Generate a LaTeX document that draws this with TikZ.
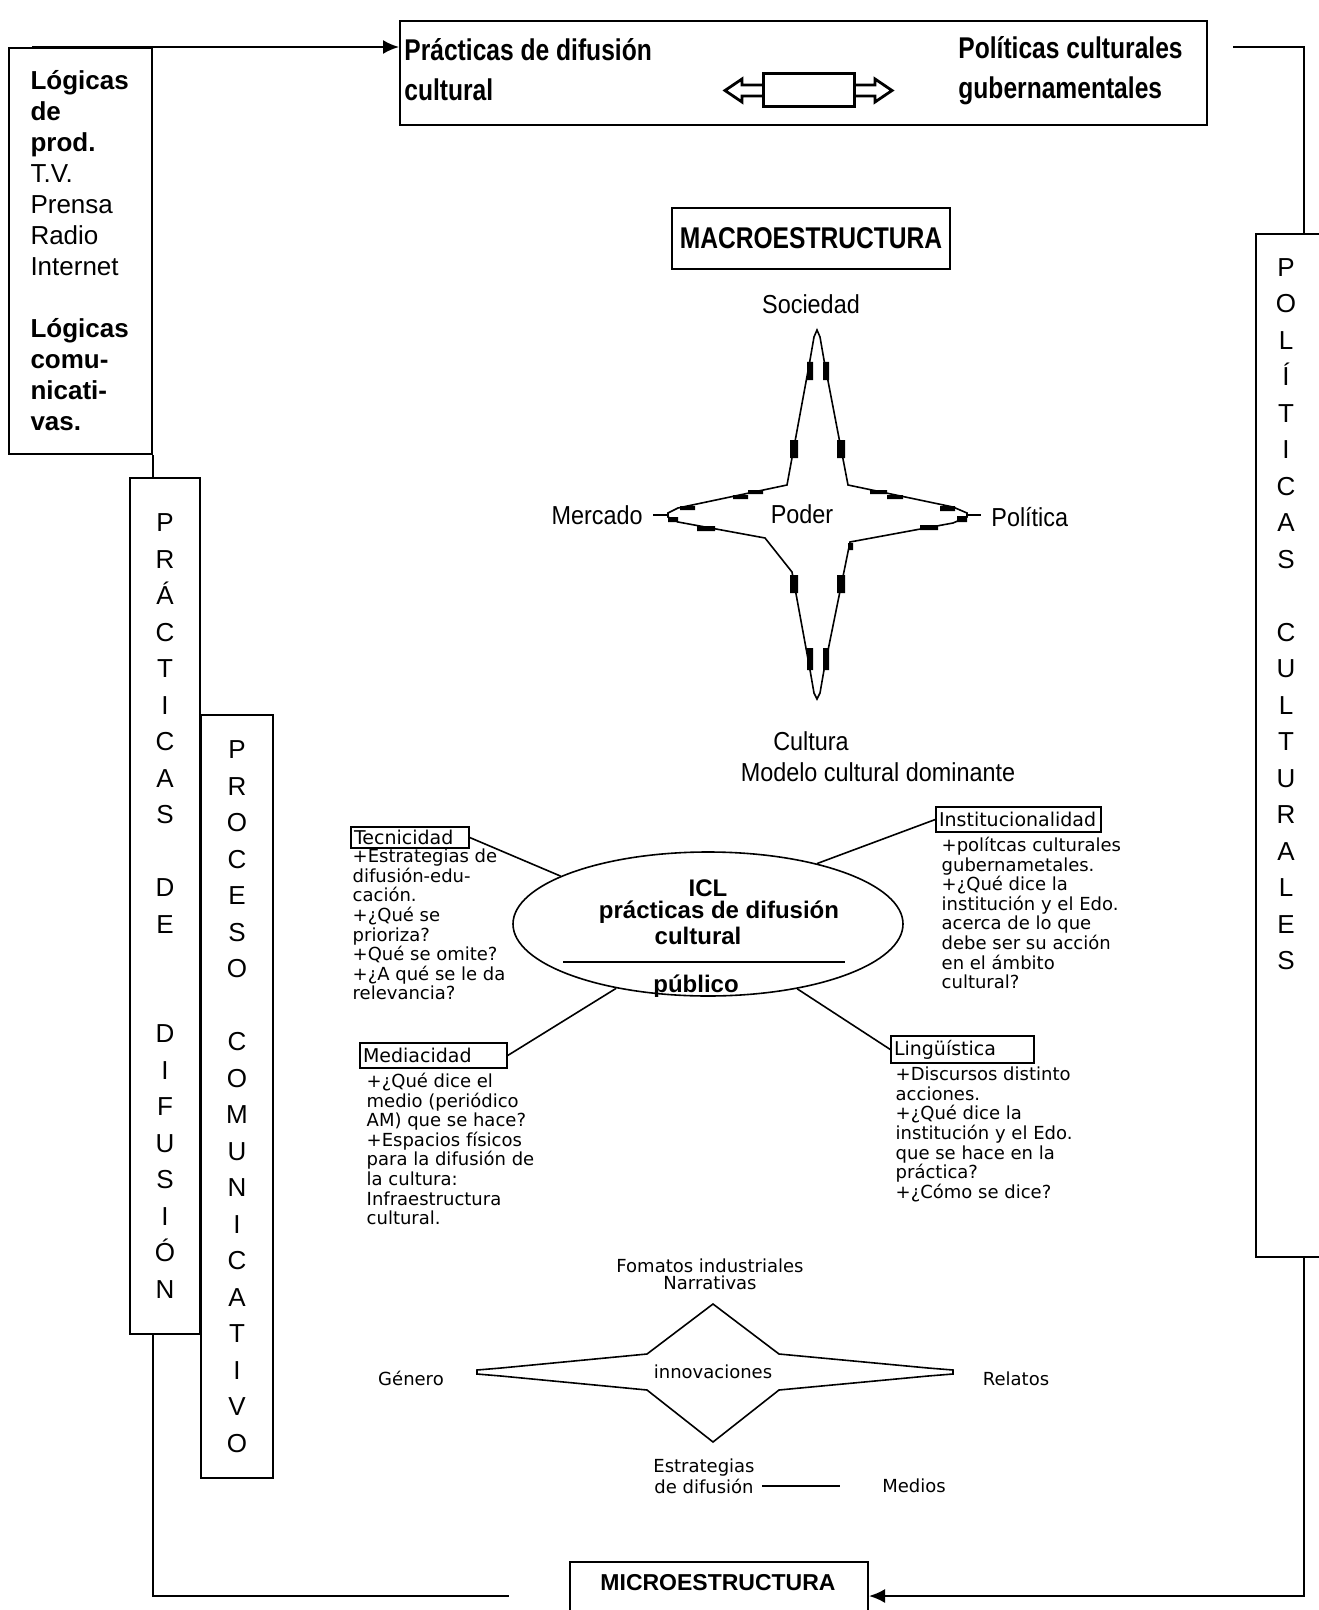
\documentclass[tikz,border=0pt]{standalone}
\usepackage{fontspec}
\setmainfont{Liberation Sans}
\newfontfamily\pixfont{DejaVu Sans}
\newfontfamily\narrowfont[FakeStretch=0.9]{Liberation Sans}
\newfontfamily\headfont[FakeStretch=0.82]{Liberation Sans}
\usetikzlibrary{positioning,shapes.geometric,calc,arrows.meta}

\begin{document}
\begin{tikzpicture}[x=0.5pt,y=-0.5pt,
  box/.style={draw,line width=1pt,inner sep=0pt},
  conn/.style={line width=1pt},
  tip/.style={-{Latex[length=8pt,width=7pt]}},
  fineline/.style={line width=0.8pt},
  vert/.style={font=\fontsize{13}{18.25}\selectfont,align=center,inner sep=0pt},
  head/.style={font=\headfont\bfseries\fontsize{15}{20}\selectfont,align=left,inner sep=0pt},
  lbl/.style={font=\narrowfont\fontsize{13}{15}\selectfont,inner sep=1pt},
  tag/.style={draw,line width=0.7pt,font=\pixfont\fontsize{9.5}{10}\selectfont,inner sep=1.5pt,align=left},
  blk/.style={font=\pixfont\fontsize{9}{9.8}\selectfont,align=left,inner sep=0pt},
  small/.style={font=\pixfont\fontsize{9}{8.75}\selectfont,align=center,inner sep=0pt},
  icltext/.style={font=\bfseries\fontsize{12}{14}\selectfont,inner sep=0pt}]
 	\useasboundingbox (0,0) rectangle (1318,1610);
 	\node[box,minimum width=71.5pt,minimum height=203pt,text width=50pt,align=left,font=\fontsize{13}{15.5}\selectfont] (logicas) at (80.5,251) {\textbf{Lógicas}\\\textbf{de}\\\textbf{prod.}\\T.V.\\Prensa\\Radio\\Internet\\[15.5pt]\textbf{Lógicas}\\\textbf{comu-}\\\textbf{nicati-}\\\textbf{vas.}};
 	\node[box,minimum width=403.5pt,minimum height=52pt] (topbox) at (803.5,73) {};
 	\node[head,anchor=west] (practxt) at (404,70) {Prácticas de difusión\\cultural};
 	\node[head,anchor=west] (poltxt) at (958,71) {Políticas culturales\\gubernamentales};
 	\draw[line width=1.5pt] (763,74) rectangle (854,107);
 	\draw[line width=1.4pt] (763,85) -- (742,85) -- (742,79) -- (725,90.5) -- (742,102) -- (742,96) -- (763,96);
 	\draw[line width=1.4pt] (854,85) -- (875,85) -- (875,79) -- (892,90.5) -- (875,102) -- (875,96) -- (854,96);
 	\node[box,minimum width=48pt,minimum height=511.5pt] (polbox) at (1304,745.5) {};
 	\node[vert,anchor=north] (poltitle) at (1286,258) {P\\O\\L\\Í\\T\\I\\C\\A\\S\\[18.25pt]C\\U\\L\\T\\U\\R\\A\\L\\E\\S};
 	\node[box,vert,minimum width=35pt,minimum height=428pt] (practbox) at (165,906) {P\\R\\Á\\C\\T\\I\\C\\A\\S\\[18.25pt]D\\E\\[36.5pt]D\\I\\F\\U\\S\\I\\Ó\\N};
 	\node[box,vert,minimum width=36pt,minimum height=381.5pt] (procbox) at (237,1096.5) {P\\R\\O\\C\\E\\S\\O\\[18.25pt]C\\O\\M\\U\\N\\I\\C\\A\\T\\I\\V\\O};
 	\node[box,minimum width=149pt,minimum height=34pt] (micro) at (719,1596) {};
 	\node[font=\bfseries\fontsize{11.5}{13}\selectfont,inner sep=0pt] (microtxt) at (718,1583) {MICROESTRUCTURA};
 	\draw[conn,tip] ([xshift=12pt]logicas.north west) -- (topbox.west |- logicas.north);
 	\draw[conn] ([xshift=12.5pt]topbox.east |- logicas.north) -| (polbox.north);
 	\draw[conn] (logicas.south east) -- (logicas.east |- practbox.north);
 	\draw[conn] (logicas.east |- practbox.south) |- ([xshift=-30pt]micro.west);
 	\draw[conn,tip] (polbox.south) |- (micro.east);
 	\node[box,minimum width=139pt,minimum height=30.5pt,font=\headfont\bfseries\fontsize{15}{18}\selectfont] (macro) at (811,238.5) {MACROESTRUCTURA};
 	\begin{scope}[shift={(817,515)}]
 		\draw[fineline] (0,-185) -- (3,-178) -- (7,-155) -- (31,-30) -- (136,-8) -- (150,-2) -- (150,2) -- (136,8) -- (33,27) -- (7,155) -- (3,178) -- (0,184) -- (-3,178) -- (-7,155) -- (-25,57) -- (-52,23) -- (-139,7) -- (-149,2) -- (-149,-2) -- (-139,-7) -- (-30,-30) -- (-7,-155) -- (-3,-178) -- cycle;
 		\fill (-10,-153) rectangle (-4,-135) (6,-153) rectangle (12,-135) (-27,-75) rectangle (-19,-57) (20,-75) rectangle (28,-57)
 			(-27,60) rectangle (-19,78) (20,60) rectangle (28,78) (-10,133) rectangle (-4,155) (6,133) rectangle (12,155)
 			(-137,-9) rectangle (-122,-5) (-84,-20) rectangle (-69,-16) (-69,-25) rectangle (-54,-21) (-120,11) rectangle (-102,16) (-149,2) rectangle (-139,7)
 			(53,-25) rectangle (70,-21) (70,-20) rectangle (86,-16) (123,-9) rectangle (138,-4) (103,10) rectangle (121,15) (140,1) rectangle (150,7) (31,28) rectangle (36,35);
 		\coordinate (tipW) at (-149,0);
 		\coordinate (tipE) at (150,0);
 	\end{scope}
 	\node[lbl] (sociedad) at (811,304) {Sociedad};
 	\node[lbl,anchor=east] (mercado) at (645,515) {Mercado};
 	\node[lbl,anchor=west] (politica) at (989,517) {Política};
 	\node[lbl] (poder) at (802,514) {Poder};
 	\node[lbl] (cultura) at (811,741) {Cultura};
 	\node[lbl] (modelo) at (878,772) {Modelo cultural dominante};
 	\draw[fineline,shorten <=4pt] (mercado.east |- tipW) -- (tipW);
 	\draw[fineline,shorten >=4pt] (tipE) -- (politica.west |- tipE);
 	\node[draw,fineline,ellipse,minimum width=195pt,minimum height=72pt] (icl) at (708,924) {};
 	\node[icltext] (icltitle) at (708,888) {ICL};
 	\node[icltext] (iclprac) at (719,912) {prácticas de difusión};
 	\node[icltext] (iclcult) at (698,936) {cultural};
 	\draw[fineline] (563,962) -- (845,962);
 	\node[icltext] (iclpub) at (696,986) {público};
 	\node[tag,text width=56pt,minimum height=10.5pt] (tec) at (410,837.5) {Tecnicidad};
 	\node[tag,text width=79.5pt,minimum height=12.5pt] (inst) at (1018.5,819.5) {Institucionalidad};
 	\node[tag,text width=70.5pt,minimum height=12.5pt] (med) at (433.5,1055.5) {Mediacidad};
 	\node[tag,text width=68.5pt,minimum height=13.5pt] (ling) at (962.5,1049.5) {Lingüística};
 	\draw[fineline] (tec.east) -- (icl.162);
 	\draw[fineline] (inst.west) -- (icl.29);
 	\draw[fineline] (med.east) -- (icl.215);
 	\draw[fineline] (ling.west) -- (icl.324);
 	\node[blk,below right=0pt and 1pt of tec.south west] (tecblk) {+Estrategias de\\difusión-edu-\\cación.\\+¿Qué se\\prioriza?\\+Qué se omite?\\+¿A qué se le da\\relevancia?};
 	\node[blk,below right=2pt and 3pt of inst.south west] (instblk) {+polítcas culturales\\gubernametales.\\+¿Qué dice la\\institución y el Edo.\\acerca de lo que\\debe ser su acción\\en el ámbito\\cultural?};
 	\node[blk,below right=2pt and 3.5pt of med.south west] (medblk) {+¿Qué dice el\\medio (periódico\\AM) que se hace?\\+Espacios físicos\\para la difusión de\\la cultura:\\Infraestructura\\cultural.};
 	\node[blk,below right=1.5pt and 2.5pt of ling.south west] (lingblk) {+Discursos distinto\\acciones.\\+¿Qué dice la\\institución y el Edo.\\que se hace en la\\práctica?\\+¿Cómo se dice?};
 	\begin{scope}[shift={(713,1372)}]
 		\draw[fineline] (0,-68) -- (66,-18) -- (215,-4) -- (240,-2) -- (240,2) -- (215,4) -- (66,18) -- (0,70) -- (-66,18) -- (-212,4) -- (-236,2) -- (-236,-2) -- (-212,-4) -- (-66,-18) -- cycle;
 	\end{scope}
 	\node[small] (fomatos) at (710,1274.5) {Fomatos industriales\\Narrativas};
 	\node[small] (genero) at (411,1378) {Género};
 	\node[small] (relatos) at (1016,1379) {Relatos};
 	\node[small] (innov) at (713,1372) {innovaciones};
 	\node[small] (estr1) at (704,1468) {Estrategias};
 	\node[small] (estr2) at (704,1486) {de difusión};
 	\node[small] (medios) at (914,1486) {Medios};
 	\draw[fineline,shorten <=4pt,shorten >=21pt] (estr2.east) -- (medios.west);
\end{tikzpicture}
\end{document}
